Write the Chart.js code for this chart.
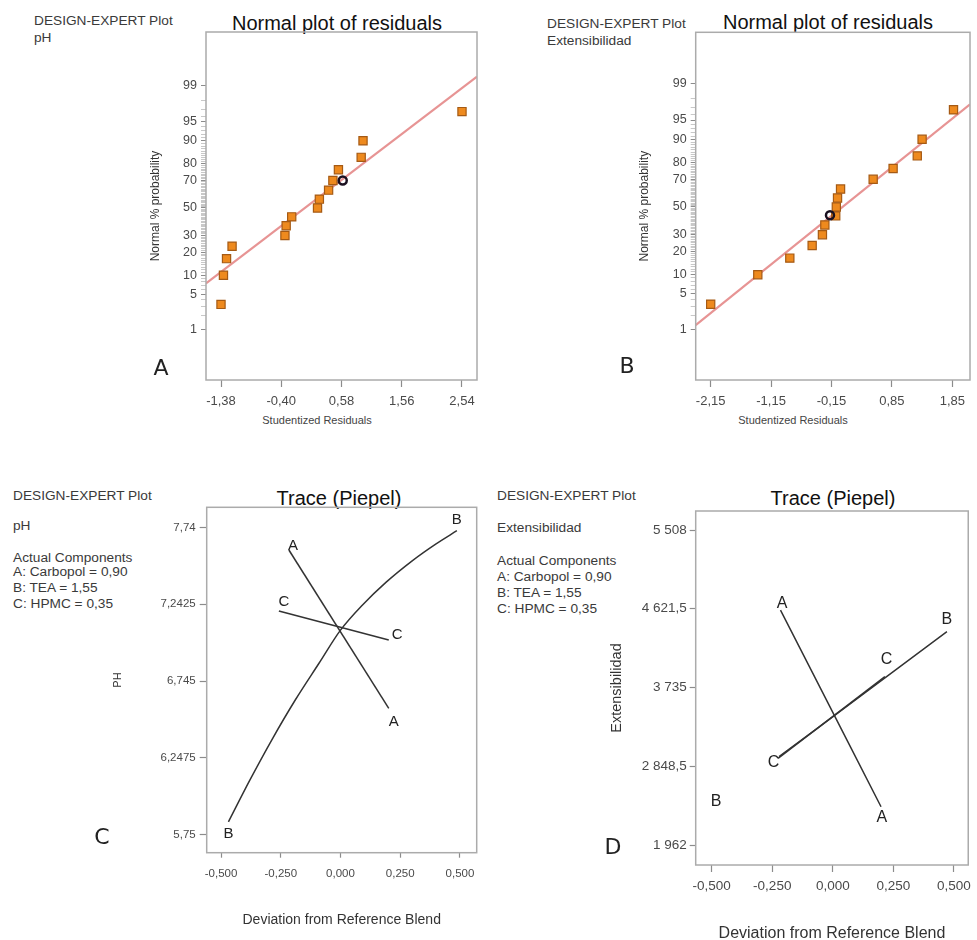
<!DOCTYPE html>
<html lang="es">
<head>
<meta charset="utf-8">
<title>Residuos normales y traza de Piepel</title>
<script src="https://cdn.jsdelivr.net/npm/chart.js@4.4.1/dist/chart.umd.min.js"></script>
<style>
  html, body { margin: 0; padding: 0; background: #fff; overflow: hidden; }
  body { position: relative; width: 977px; height: 940px; font-family: "Liberation Sans", Arial, sans-serif; color: #333; }
  canvas { position: absolute; }
  .t { position: absolute; white-space: nowrap; line-height: 1; }
  .cab { font-size: 13.7px; color: #3a3a3a; }
  .tit { font-size: 20px; color: #111; transform: translateX(-50%); }
  .ejex { font-size: 11px; color: #444; transform: translateX(-50%); }
  .letra { font-family: "DejaVu Sans", sans-serif; font-size: 22px; color: #222; transform: translateX(-50%); }
</style>
</head>
<body>

<!-- cabeceras de Design-Expert -->
<div class="t cab" style="left:34px;top:14px">DESIGN-EXPERT Plot</div>
<div class="t cab" style="left:34px;top:31px">pH</div>
<div class="t cab" style="left:547px;top:17px">DESIGN-EXPERT Plot</div>
<div class="t cab" style="left:547px;top:34px">Extensibilidad</div>

<div class="t cab" style="left:13px;top:489px">DESIGN-EXPERT Plot</div>
<div class="t cab" style="left:13px;top:519px">pH</div>
<div class="t cab" style="left:13px;top:551px">Actual Components</div>
<div class="t cab" style="left:13px;top:565px">A: Carbopol = 0,90</div>
<div class="t cab" style="left:13px;top:581px">B: TEA = 1,55</div>
<div class="t cab" style="left:13px;top:597px">C: HPMC = 0,35</div>

<div class="t cab" style="left:497px;top:489px">DESIGN-EXPERT Plot</div>
<div class="t cab" style="left:497px;top:521px">Extensibilidad</div>
<div class="t cab" style="left:497px;top:554px">Actual Components</div>
<div class="t cab" style="left:497px;top:570px">A: Carbopol = 0,90</div>
<div class="t cab" style="left:497px;top:586px">B: TEA = 1,55</div>
<div class="t cab" style="left:497px;top:602px">C: HPMC = 0,35</div>

<!-- titulos -->
<div class="t tit" style="left:337px;top:13px">Normal plot of residuals</div>
<div class="t tit" style="left:828px;top:12px">Normal plot of residuals</div>
<div class="t tit" style="left:339px;top:488px">Trace (Piepel)</div>
<div class="t tit" style="left:833px;top:488px">Trace (Piepel)</div>

<!-- titulos de eje x de los graficos normales (van desplazados a la izquierda en el original) -->
<div class="t ejex" style="left:317px;top:415px">Studentized Residuals</div>
<div class="t ejex" style="left:793px;top:415px">Studentized Residuals</div>

<canvas id="gA" width="490" height="440" style="left:0;top:0"></canvas>
<canvas id="gB" width="487" height="440" style="left:490px;top:0"></canvas>
<canvas id="gC" width="490" height="480" style="left:0;top:470px"></canvas>
<canvas id="gD" width="487" height="480" style="left:490px;top:470px"></canvas>

<!-- letras de panel -->
<div class="t letra" style="left:161px;top:357px">A</div>
<div class="t letra" style="left:627px;top:355px">B</div>
<div class="t letra" style="left:102px;top:826px">C</div>
<div class="t letra" style="left:613px;top:836px">D</div>

<script>
// ---------- DATOS ----------
// A: pH - residuos estudentizados vs % probabilidad normal
const residuosA = [-1.38, -1.34, -1.29, -1.20, -0.34, -0.32, -0.23, 0.19, 0.22, 0.37, 0.44, 0.53, 0.90, 0.93, 2.54];
const probA     = [3.3, 10, 16.7, 23.3, 30, 36.7, 43.3, 50, 56.7, 63.3, 70, 76.7, 83.3, 90, 96.7];
const residuoMarcadoA = [0.60];
const probMarcadoA    = [70];
const rectaA_x = [-1.624, 2.784];
const rectaA_p = [7.5, 99.39];
const ticksXA  = [-1.38, -0.40, 0.58, 1.56, 2.54];

// B: Extensibilidad
const residuosB = [-2.15, -1.37, -0.84, -0.47, -0.30, -0.26, -0.08, -0.07, -0.05, 0.00, 0.54, 0.87, 1.27, 1.35, 1.87];
const probB     = [3.3, 10, 16.7, 23.3, 30, 36.7, 43.3, 50, 56.7, 63.3, 70, 76.7, 83.3, 90, 96.7];
const residuoMarcadoB = [-0.175];
const probMarcadoB    = [43.8];
const rectaB_x = [-2.398, 2.143];
const rectaB_p = [1.28, 97.4];
const ticksXB  = [-2.15, -1.15, -0.15, 0.85, 1.85];

const probTicks = [1, 5, 10, 20, 30, 50, 70, 80, 90, 95, 99];

// C y D: traza de Piepel
const desviacion = [-0.5, -0.25, 0, 0.25, 0.5];

const ticksYC = [5.75, 6.2475, 6.745, 7.2425, 7.74];
const trazaC_A_x = [-0.216, 0.202];
const trazaC_A_y = [7.595, 6.567];
const trazaC_B_x = [-0.469, -0.38, -0.285, -0.19, -0.09, 0, 0.09, 0.19, 0.30, 0.40, 0.487];
const trazaC_B_y = [5.831, 6.10, 6.37, 6.62, 6.86, 7.075, 7.235, 7.385, 7.525, 7.635, 7.72];
const trazaC_C_x = [-0.258, 0.202];
const trazaC_C_y = [7.199, 7.011];
const letrasC = [['A', -0.199, 7.623], ['A', 0.223, 6.480], ['B', -0.469, 5.756], ['B', 0.487, 7.79], ['C', -0.237, 7.256], ['C', 0.237, 7.043]];

const ticksYD = [1962, 2848.5, 3735, 4621.5, 5508];
const trazaD_A_x = [-0.216, 0.199];
const trazaD_A_y = [4607, 2393];
const trazaD_B_x = [-0.222, 0.471];
const trazaD_B_y = [2956, 4363];
const trazaD_C_x = [-0.226, 0.215];
const trazaD_C_y = [2938, 3857];
const letrasD = [['A', -0.209, 4683], ['A', 0.202, 2269], ['B', 0.471, 4495], ['B', -0.482, 2449], ['C', 0.222, 4045], ['C', -0.245, 2893]];

// ---------- utilidades ----------
// inversa de la normal (Acklam), p en %
function probit(p) {
  const a = [-3.969683028665376e+01, 2.209460984245205e+02, -2.759285104469687e+02, 1.383577518672690e+02, -3.066479806614716e+01, 2.506628277459239e+00];
  const b = [-5.447609879822406e+01, 1.615858368580409e+02, -1.556989798598866e+02, 6.680131188771972e+01, -1.328068155288572e+01];
  const c = [-7.784894002430293e-03, -3.223964580411365e-01, -2.400758277161838e+00, -2.549732539343734e+00, 4.374664141464968e+00, 2.938163982698783e+00];
  const d = [7.784695709041462e-03, 3.224671290700398e-01, 2.445134137142996e+00, 3.754408661907416e+00];
  const u = p / 100, pl = 0.02425;
  if (u < pl || u > 1 - pl) {
    const q = Math.sqrt(-2 * Math.log(u < pl ? u : 1 - u));
    const z = (((((c[0]*q+c[1])*q+c[2])*q+c[3])*q+c[4])*q+c[5]) / ((((d[0]*q+d[1])*q+d[2])*q+d[3])*q+1);
    return u < pl ? z : -z;
  }
  const q = u - 0.5, r = q * q;
  return (((((a[0]*r+a[1])*r+a[2])*r+a[3])*r+a[4])*r+a[5])*q / (((((b[0]*r+b[1])*r+b[2])*r+b[3])*r+b[4])*r+1);
}

const coma = (v, dec) => v.toFixed(dec).replace('.', ',');
function miles(v) {
  const [ent, dec] = String(v).split('.');
  return ent.replace(/\B(?=(\d{3})+(?!\d))/g, ' ') + (dec ? ',' + dec : '');
}
const puntos = (xs, ys) => xs.map((x, i) => ({ x, y: ys[i] }));

// caja gris alrededor del area de trazado
const cajaPlugin = {
  id: 'caja',
  afterDatasetsDraw(chart) {
    const { ctx, chartArea: a } = chart;
    ctx.save();
    ctx.strokeStyle = '#ababab';
    ctx.lineWidth = 1.5;
    ctx.strokeRect(a.left, a.top, a.right - a.left, a.bottom - a.top);
    ctx.restore();
  }
};

// letras A/B/C en los extremos de las trazas
const letrasPlugin = {
  id: 'letras',
  afterDatasetsDraw(chart, args, opts) {
    if (!opts.items) return;
    const { ctx, scales: { x, y } } = chart;
    ctx.save();
    ctx.font = opts.font;
    ctx.fillStyle = '#222';
    ctx.textAlign = 'center';
    ctx.textBaseline = 'middle';
    opts.items.forEach(it => ctx.fillText(it[0], x.getPixelForValue(it[1]), y.getPixelForValue(it[2])));
    ctx.restore();
  }
};

// calcula rellenos para fijar el area de trazado y la posicion de los titulos de eje
function encaje(canvas, area, yTit, xTit) {
  const w = canvas.width, h = canvas.height;
  const izq = yTit.x - yTit.size * 0.6 - yTit.pad;
  const bajo = xTit.y + xTit.size * 0.6 + xTit.pad;
  return {
    padding: { left: izq, top: area.t, right: w - area.r, bottom: h - bajo },
    anchoY: area.l - izq,
    altoX: bajo - area.b
  };
}

function ejeFijo(valores, etiquetas) {
  return scale => { scale.ticks = valores.map((v, i) => ({ value: v, lbl: etiquetas[i] })); };
}

function opcionesBase(enc, ejes) {
  return {
    responsive: false,
    animation: false,
    devicePixelRatio: 1,
    events: [],
    layout: { padding: enc.padding },
    plugins: { legend: { display: false }, tooltip: { enabled: false } },
    scales: {
      x: Object.assign({ type: 'linear', afterFit: s => { s.height = enc.altoX; } }, ejes.x),
      y: Object.assign({ type: 'linear', afterFit: s => { s.width = enc.anchoY; } }, ejes.y)
    }
  };
}

function ejeTitulo(texto, size, pad) {
  return { display: true, text: texto, color: '#333', font: { family: 'Liberation Sans', size: size, lineHeight: 1.2 }, padding: { top: pad, bottom: pad } };
}

// ---------- graficos de probabilidad normal ----------
function graficoNormal(id, cfg) {
  const canvas = document.getElementById(id);
  const enc = encaje(canvas, cfg.area, { x: cfg.yTitX, size: 12, pad: 4 }, { x: 0, y: 420, size: 11, pad: 4 });
  const percentiles = [];
  for (let p = 1; p <= 99; p++) percentiles.push(p);
  const etiquetasY = percentiles.map(p => probTicks.includes(p) ? String(p) : '');
  const opts = opcionesBase(enc, {
    x: {
      min: cfg.xMin, max: cfg.xMax,
      afterBuildTicks: ejeFijo(cfg.ticksX, cfg.ticksX.map(v => coma(v, 2))),
      ticks: { callback: (v, i, t) => t[i].lbl, autoSkip: false, maxRotation: 0, padding: 7, color: '#4a4a4a', font: { family: 'Liberation Sans', size: 13 } },
      grid: { drawOnChartArea: false, tickLength: 7, tickColor: '#8c8c8c', tickWidth: 1.2 },
      border: { display: false }
    },
    y: {
      min: cfg.yMin, max: cfg.yMax,
      afterBuildTicks: ejeFijo(percentiles.map(probit), etiquetasY),
      ticks: { callback: (v, i, t) => t[i].lbl, autoSkip: false, padding: 4, color: '#4a4a4a', font: { family: 'Liberation Sans', size: 12.5 } },
      grid: { drawOnChartArea: false, tickLength: 5, tickColor: c => (c.tick && c.tick.lbl === '') ? '#c8c8c8' : '#8c8c8c' },
      border: { display: false },
      title: ejeTitulo('Normal % probability', 12, 4)
    }
  });
  new Chart(canvas, {
    type: 'scatter',
    data: {
      datasets: [
        { data: puntos(cfg.marcX, cfg.marcP.map(probit)), pointStyle: 'circle', pointRadius: 4, backgroundColor: 'rgba(0,0,0,0)', borderColor: '#1a1020', borderWidth: 2.5, order: 0 },
        { data: puntos(cfg.resid, cfg.prob.map(probit)), pointStyle: 'rect', pointRadius: 5.8, backgroundColor: '#ee8a1e', borderColor: '#a55a14', borderWidth: 1.2, order: 1 },
        { data: puntos(cfg.rectaX, cfg.rectaP.map(probit)), showLine: true, pointRadius: 0, borderColor: '#e79494', borderWidth: 2.2, order: 2 }
      ]
    },
    options: opts,
    plugins: [cajaPlugin]
  });
}

graficoNormal('gA', {
  area: { l: 206, r: 477, t: 32, b: 380 }, yTitX: 156,
  xMin: -1.624, xMax: 2.784, yMin: -3.28, yMax: 3.356,
  ticksX: ticksXA, resid: residuosA, prob: probA,
  marcX: residuoMarcadoA, marcP: probMarcadoA, rectaX: rectaA_x, rectaP: rectaA_p
});

graficoNormal('gB', {
  area: { l: 205.7, r: 480, t: 32.3, b: 380 }, yTitX: 155,
  xMin: -2.398, xMax: 2.143, yMin: -3.272, yMax: 3.304,
  ticksX: ticksXB, resid: residuosB, prob: probB,
  marcX: residuoMarcadoB, marcP: probMarcadoB, rectaX: rectaB_x, rectaP: rectaB_p
});

// ---------- trazas de Piepel ----------
function graficoTraza(id, cfg) {
  const canvas = document.getElementById(id);
  const enc = encaje(canvas, cfg.area, { x: cfg.yTitX, size: cfg.yTitSize, pad: 4 }, { x: 0, y: cfg.xTitY, size: cfg.xTitSize, pad: 4 });
  const fuente = { family: 'Liberation Sans', size: cfg.tickSize };
  const opts = opcionesBase(enc, {
    x: {
      min: cfg.xMin, max: cfg.xMax,
      afterBuildTicks: ejeFijo(desviacion, desviacion.map(v => coma(v, 3))),
      ticks: { callback: (v, i, t) => t[i].lbl, autoSkip: false, maxRotation: 0, padding: cfg.xPad, color: '#4a4a4a', font: fuente },
      grid: { drawOnChartArea: false, tickLength: cfg.xTick, tickColor: '#8c8c8c', tickWidth: 1.2 },
      border: { display: false },
      title: ejeTitulo('Deviation from Reference Blend', cfg.xTitSize, 4)
    },
    y: {
      min: cfg.yMin, max: cfg.yMax,
      afterBuildTicks: ejeFijo(cfg.ticksY, cfg.ticksY.map(cfg.formatoY)),
      ticks: { callback: (v, i, t) => t[i].lbl, autoSkip: false, padding: cfg.yPad, color: '#4a4a4a', font: fuente },
      grid: { drawOnChartArea: false, tickLength: cfg.yTick, tickColor: '#8c8c8c', tickWidth: 1.2 },
      border: { display: false },
      title: ejeTitulo(cfg.yTitulo, cfg.yTitSize, 4)
    }
  });
  opts.plugins.letras = { items: cfg.letras, font: cfg.letraFont };
  const linea = { showLine: true, pointRadius: 0, borderColor: '#333', borderWidth: 1.5, cubicInterpolationMode: 'monotone' };
  new Chart(canvas, {
    type: 'scatter',
    data: { datasets: cfg.trazas.map(t => Object.assign({ data: puntos(t[0], t[1]) }, linea)) },
    options: opts,
    plugins: [cajaPlugin, letrasPlugin]
  });
}

graficoTraza('gC', {
  area: { l: 206.7, r: 476.7, t: 37.3, b: 382.7 },
  yTitX: 118, yTitSize: 11, yTitulo: 'PH',
  xTitY: 450, xTitSize: 14,
  xMin: -0.56, xMax: 0.57, yMin: 5.631, yMax: 7.872,
  ticksY: ticksYC, formatoY: v => String(v).replace('.', ','),
  tickSize: 11.5, xTick: 5, xPad: 9, yTick: 7, yPad: 4,
  trazas: [[trazaC_A_x, trazaC_A_y], [trazaC_B_x, trazaC_B_y], [trazaC_C_x, trazaC_C_y]],
  letras: letrasC, letraFont: '15px "Liberation Sans"'
});

graficoTraza('gD', {
  area: { l: 205.7, r: 484, t: 41, b: 395 },
  yTitX: 126.7, yTitSize: 14.5, yTitulo: 'Extensibilidad',
  xTitY: 463.3, xTitSize: 16,
  xMin: -0.566, xMax: 0.559, yMin: 1737, yMax: 5722,
  ticksY: ticksYD, formatoY: miles,
  tickSize: 13.5, xTick: 7, xPad: 6, yTick: 6, yPad: 3,
  trazas: [[trazaD_A_x, trazaD_A_y], [trazaD_B_x, trazaD_B_y], [trazaD_C_x, trazaD_C_y]],
  letras: letrasD, letraFont: '16px "Liberation Sans"'
});
</script>
</body>
</html>
